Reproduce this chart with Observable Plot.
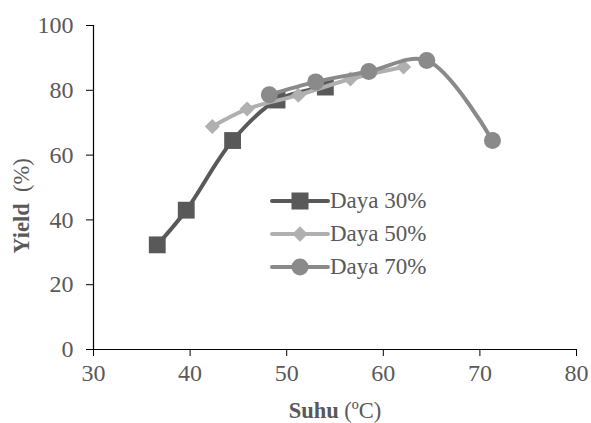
<!DOCTYPE html>
<html><head><meta charset="utf-8">
<script src="https://cdn.jsdelivr.net/npm/d3@7"></script>
<script src="https://cdn.jsdelivr.net/npm/@observablehq/plot@0.6"></script>
<style>
body{margin:0;background:#fff;}
#wrap{position:relative;width:591px;height:423px;}
#legend{position:absolute;left:270px;top:184px;font-family:"Liberation Serif",serif;font-size:23px;color:#595959;}
#legend .row{display:flex;align-items:center;height:33px;}
#legend svg{display:block;margin-right:0px;}
</style></head>
<body><div id="wrap"><div id="legend"></div></div>
<script>
const seriesNames = ["Daya 30%", "Daya 50%", "Daya 70%"];
const suhu30 = [36.6, 39.6, 44.4, 49.0, 54.0];
const yield30 = [32.3, 43.0, 64.5, 77.0, 81.0];
const suhu50 = [42.3, 45.9, 51.2, 56.6, 62.1];
const yield50 = [68.8, 74.2, 78.5, 83.5, 87.2];
const suhu70 = [48.2, 53.0, 58.5, 64.5, 71.3];
const yield70 = [78.6, 82.6, 85.8, 89.2, 64.5];
const xTicks = [30, 40, 50, 60, 70, 80];
const yTicks = [0, 20, 40, 60, 80, 100];

const colors = ["#595959", "#b0b0b0", "#8a8a8a"];
const mk = (xs, ys, s) => xs.map((x, i) => ({x, y: ys[i], s}));
const d30 = mk(suhu30, yield30, seriesNames[0]);
const d50 = mk(suhu50, yield50, seriesNames[1]);
const d70 = mk(suhu70, yield70, seriesNames[2]);

const font = '"Liberation Serif", serif';
const plot = Plot.plot({
  width: 591, height: 423,
  marginLeft: 93, marginRight: 15, marginTop: 25, marginBottom: 74,
  style: {fontFamily: font, fontSize: "24px", color: "#595959", background: "transparent"},
  x: {domain: [30, 80], ticks: xTicks, label: null},
  y: {domain: [0, 100], ticks: yTicks, label: null},
  marks: [
    Plot.axisX({ticks: xTicks, tickSize: 7, tickPadding: 7, stroke: "#000", fill: "#595959", label: null}),
    Plot.axisY({ticks: yTicks, tickSize: 7, tickPadding: 13, stroke: "#000", fill: "#595959", label: null}),
    Plot.ruleX([30], {stroke: "#000", strokeWidth: 1.2}),
    Plot.ruleY([0], {stroke: "#000", strokeWidth: 1.2}),
    Plot.line(d30, {x: "x", y: "y", stroke: colors[0], strokeWidth: 4, curve: "catmull-rom"}),
    Plot.dot(d30, {x: "x", y: "y", symbol: "square", r: 9.5, fill: colors[0], stroke: "none"}),
    Plot.line(d50, {x: "x", y: "y", stroke: colors[1], strokeWidth: 4, curve: "catmull-rom"}),
    Plot.dot(d50, {x: "x", y: "y", symbol: "square", r: 6, rotate: 45, fill: colors[1], stroke: "none"}),
    Plot.line(d70, {x: "x", y: "y", stroke: colors[2], strokeWidth: 4, curve: "catmull-rom"}),
    Plot.dot(d70, {x: "x", y: "y", r: 8.5, fill: colors[2], stroke: "none"})
  ]
});
plot.style.position = "absolute";
plot.style.left = "0"; plot.style.top = "0";
document.getElementById("wrap").prepend(plot);

const svg = d3.select(plot);
const t1 = svg.append("text").attr("x", 335).attr("y", 418).attr("text-anchor", "middle")
  .attr("font-family", font).attr("font-size", 22.5).attr("fill", "#595959");
t1.append("tspan").attr("font-weight", "bold").text("Suhu");
t1.append("tspan").text(" (ºC)");
const t2 = svg.append("text").attr("transform", "translate(29,206) rotate(-90)").attr("text-anchor", "middle")
  .attr("font-family", font).attr("font-size", 22.5).attr("fill", "#595959");
t2.append("tspan").attr("font-weight", "bold").text("Yield");
t2.append("tspan").text("  (%)");

// legend
const leg = d3.select("#legend");
const syms = ["square", "diamond", "circle"];
seriesNames.forEach((name, i) => {
  const row = leg.append("div").attr("class", "row");
  const s = row.append("svg").attr("width", 60).attr("height", 20);
  s.append("line").attr("x1", 2).attr("x2", 58).attr("y1", 10).attr("y2", 10)
    .attr("stroke", colors[i]).attr("stroke-width", 4).attr("stroke-linecap", "round");
  if (syms[i] === "square") s.append("rect").attr("x", 21.5).attr("y", 1.5).attr("width", 17).attr("height", 17).attr("fill", colors[i]);
  if (syms[i] === "diamond") s.append("rect").attr("x", 24.5).attr("y", 4.5).attr("width", 11).attr("height", 11).attr("fill", colors[i]).attr("transform", "rotate(45 30 10)");
  if (syms[i] === "circle") s.append("circle").attr("cx", 30).attr("cy", 10).attr("r", 8.5).attr("fill", colors[i]);
  row.append("span").text(name);
});
</script></body></html>
